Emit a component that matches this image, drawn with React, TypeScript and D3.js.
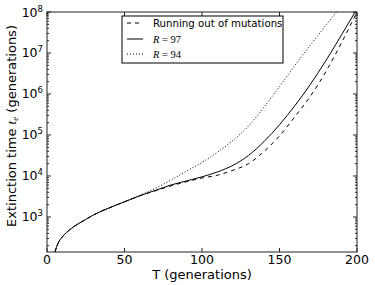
import React from "react";
import * as d3 from "d3";

const W = 375;
const H = 285;
const M = { left: 47, right: 357, top: 12, bottom: 252 };

// Generations T
const tDashed = [5.2, 6, 8, 10, 15, 20, 25, 30, 40, 50, 60, 70, 80, 90, 100, 110, 120, 130, 140, 150, 160, 170, 180, 190, 200];
const vDashed = [141, 178, 263, 331, 501, 676, 871, 1122, 1660, 2344, 3311, 4365, 5754, 7244, 8913, 10470, 13800, 19950, 39810, 95500, 281800, 891300, 3548000, 17780000, 100000000];

const tSolid = [5.2, 6, 8, 10, 15, 20, 25, 30, 40, 50, 60, 70, 80, 90, 100, 110, 120, 130, 140, 150, 160, 170, 180, 190, 200];
const vSolid = [141, 178, 263, 331, 501, 676, 871, 1122, 1660, 2344, 3311, 4467, 6026, 7586, 9550, 12590, 18200, 31620, 69180, 177800, 524800, 1738000, 6607000, 27540000, 120200000];

const tDotted = [5.2, 6, 8, 10, 15, 20, 25, 30, 40, 50, 60, 70, 80, 90, 100, 110, 120, 130, 140, 150, 160, 170, 180, 190];
const vDotted = [141, 178, 263, 331, 501, 676, 871, 1122, 1660, 2344, 3388, 5012, 7943, 13180, 21380, 38020, 74130, 166000, 478600, 1514000, 5012000, 15850000, 47860000, 141300000];

const xTicks = [0, 50, 100, 150, 200];
const yTickExps = [3, 4, 5, 6, 7, 8];

const legendLabels = ["Running out of mutations", "97", "94"];

export default function App() {
  const x = d3.scaleLinear().domain([0, 200]).range([M.left, M.right]);
  const y = d3.scaleLog().domain([140, 1e8]).range([M.bottom, M.top]);

  const mk = (ts: number[], vs: number[]) =>
    d3
      .line<number>()
      .x((_, i) => x(ts[i]))
      .y((v) => y(v))
      .curve(d3.curveMonotoneX)(vs) || "";

  const minor: number[] = [];
  for (let e = 2; e < 8; e++) {
    for (let m = 2; m <= 9; m++) {
      const v = m * Math.pow(10, e);
      if (v >= 140 && v <= 1e8) minor.push(v);
    }
  }

  const axisColor = "#222";
  const fs = "'DejaVu Sans', sans-serif";
  const serif = "'Liberation Serif', 'DejaVu Serif', serif";

  return (
    <svg width={W} height={H} style={{ position: "absolute", left: 0, top: 0, background: "#fff" }}>
      <rect x={0} y={0} width={W} height={H} fill="#fff" />
      <defs>
        <clipPath id="plotclip">
          <rect x={M.left} y={M.top} width={M.right - M.left} height={M.bottom - M.top} />
        </clipPath>
      </defs>
      <g clipPath="url(#plotclip)" fill="none" stroke="#000" strokeWidth={1}>
        <path d={mk(tDotted, vDotted)} strokeDasharray="1,2" />
        <path d={mk(tSolid, vSolid)} />
        <path d={mk(tDashed, vDashed)} strokeDasharray="4,4" />
      </g>
      {/* ticks */}
      <g stroke={axisColor} strokeWidth={1}>
        {xTicks.map((t) => (
          <g key={"xt" + t}>
            <line x1={x(t)} x2={x(t)} y1={M.bottom} y2={M.bottom - 4} />
            <line x1={x(t)} x2={x(t)} y1={M.top} y2={M.top + 4} />
          </g>
        ))}
        {yTickExps.map((e) => (
          <g key={"yt" + e}>
            <line x1={M.left} x2={M.left + 4} y1={y(Math.pow(10, e))} y2={y(Math.pow(10, e))} />
            <line x1={M.right} x2={M.right - 4} y1={y(Math.pow(10, e))} y2={y(Math.pow(10, e))} />
          </g>
        ))}
        {minor.map((v, i) => (
          <g key={"ym" + i}>
            <line x1={M.left} x2={M.left + 2} y1={y(v)} y2={y(v)} />
            <line x1={M.right} x2={M.right - 2} y1={y(v)} y2={y(v)} />
          </g>
        ))}
      </g>
      <rect x={M.left} y={M.top} width={M.right - M.left} height={M.bottom - M.top} fill="none" stroke={axisColor} strokeWidth={1} />
      {/* tick labels */}
      <g fontFamily={fs} fontSize={12.5} fill="#000">
        {xTicks.map((t) => (
          <text key={"xl" + t} x={x(t)} y={263.5} textAnchor="middle">
            {t}
          </text>
        ))}
        {yTickExps.map((e) => (
          <text key={"yl" + e} x={43} y={y(Math.pow(10, e)) + 4.5} textAnchor="end">
            10
            <tspan fontSize={8.5} dy={-5}>
              {e}
            </tspan>
          </text>
        ))}
      </g>
      {/* axis labels */}
      <text x={(M.left + M.right) / 2} y={279} textAnchor="middle" fontFamily={fs} fontSize={13} fill="#000">
        T (generations)
      </text>
      <text transform="translate(16,126) rotate(-90)" textAnchor="middle" fontFamily={fs} fontSize={13} fill="#000">
        Extinction time{" "}
        <tspan fontFamily={serif} fontStyle="italic">t</tspan>
        <tspan fontFamily={serif} fontStyle="italic" fontSize={9} dy={2}>e</tspan>
        <tspan dy={-2}> (generations)</tspan>
      </text>
      {/* legend */}
      <g>
        <rect x={122} y={16} width={161} height={47} fill="#fff" stroke="#000" strokeWidth={1} />
        <line x1={127} x2={143} y1={23} y2={23} stroke="#000" strokeDasharray="4,4" />
        <line x1={127} x2={143} y1={39} y2={39} stroke="#000" />
        <line x1={127} x2={143} y1={54} y2={54} stroke="#000" strokeDasharray="1,2" />
        <text x={153} y={26.5} fontFamily={fs} fontSize={10.2} fill="#000">
          {legendLabels[0]}
        </text>
        <text x={153} y={42.5} fontFamily={serif} fontSize={10.5} fill="#000">
          <tspan fontStyle="italic">R</tspan> = {legendLabels[1]}
        </text>
        <text x={153} y={57.5} fontFamily={serif} fontSize={10.5} fill="#000">
          <tspan fontStyle="italic">R</tspan> = {legendLabels[2]}
        </text>
      </g>
    </svg>
  );
}
